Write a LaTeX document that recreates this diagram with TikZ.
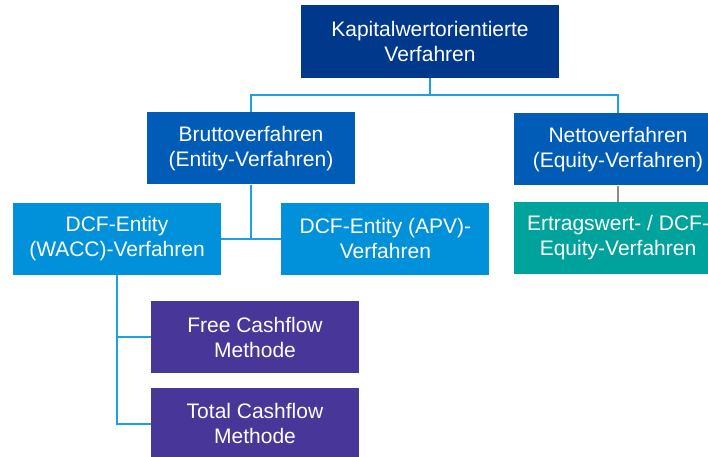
\documentclass[tikz,border=0pt]{standalone}
\usepackage{fontspec}
\setmainfont{Liberation Sans}
\usetikzlibrary{positioning}
\definecolor{KWDarkBlue}{RGB}{0,56,140}
\definecolor{KWBlue}{RGB}{0,92,183}
\definecolor{KWLightBlue}{RGB}{0,145,218}
\definecolor{KWTeal}{RGB}{0,163,156}
\definecolor{KWPurple}{RGB}{72,54,152}
\definecolor{KWLine}{RGB}{27,160,225}
\definecolor{KWGray}{RGB}{140,140,140}

\begin{document}
\begin{tikzpicture}[
x=1pt,y=1pt,
box/.style={rectangle,fill=#1,text=white,minimum width=208pt,minimum height=72pt,
inner sep=0pt,align=center,font=\fontsize{21}{25}\selectfont},
link/.style={line width=1.8pt,draw=KWLine},
greylink/.style={line width=1.8pt,draw=KWGray}
]
\clip (0,0) rectangle (708,-456);
\node[box=KWDarkBlue,minimum width=258pt,minimum height=73pt] (kw) at (430,-41.5) {Kapitalwertorientierte\\Verfahren};
\node[box=KWBlue,below=34pt of kw,xshift=-179pt] (brutto) {Bruttoverfahren\\(Entity-Verfahren)};
\node[box=KWBlue,below=35pt of kw,xshift=188pt] (netto) {Nettoverfahren\\(Equity-Verfahren)};
\node[box=KWLightBlue,below=18pt of brutto,xshift=-134pt] (wacc) {DCF-Entity\\(WACC)-Verfahren};
\node[box=KWLightBlue,right=60pt of wacc] (apv) {DCF-Entity (APV)-\\Verfahren};
\node[box=KWTeal,below=16pt of netto] (ertrag) {Ertragswert- / DCF-\\Equity-Verfahren};
\node[box=KWPurple,below=26pt of wacc,xshift=138pt] (fcf) {Free Cashflow\\Methode};
\node[box=KWPurple,below=14pt of fcf] (tcf) {Total Cashflow\\Methode};
% tree lines
\draw[link] (kw.south) -- ++(0,-17) coordinate (fork);
\draw[link] (fork) -| (brutto);
\draw[link] (fork) -| (netto);
\draw[link] (brutto.south) |- (wacc.east);
\draw[link] (brutto.south) |- (apv.west);
\draw[greylink] (netto) -- (ertrag);
\draw[link] (wacc.south) |- (fcf.west);
\draw[link] (wacc.south) |- (tcf.west);
\end{tikzpicture}
\end{document}
